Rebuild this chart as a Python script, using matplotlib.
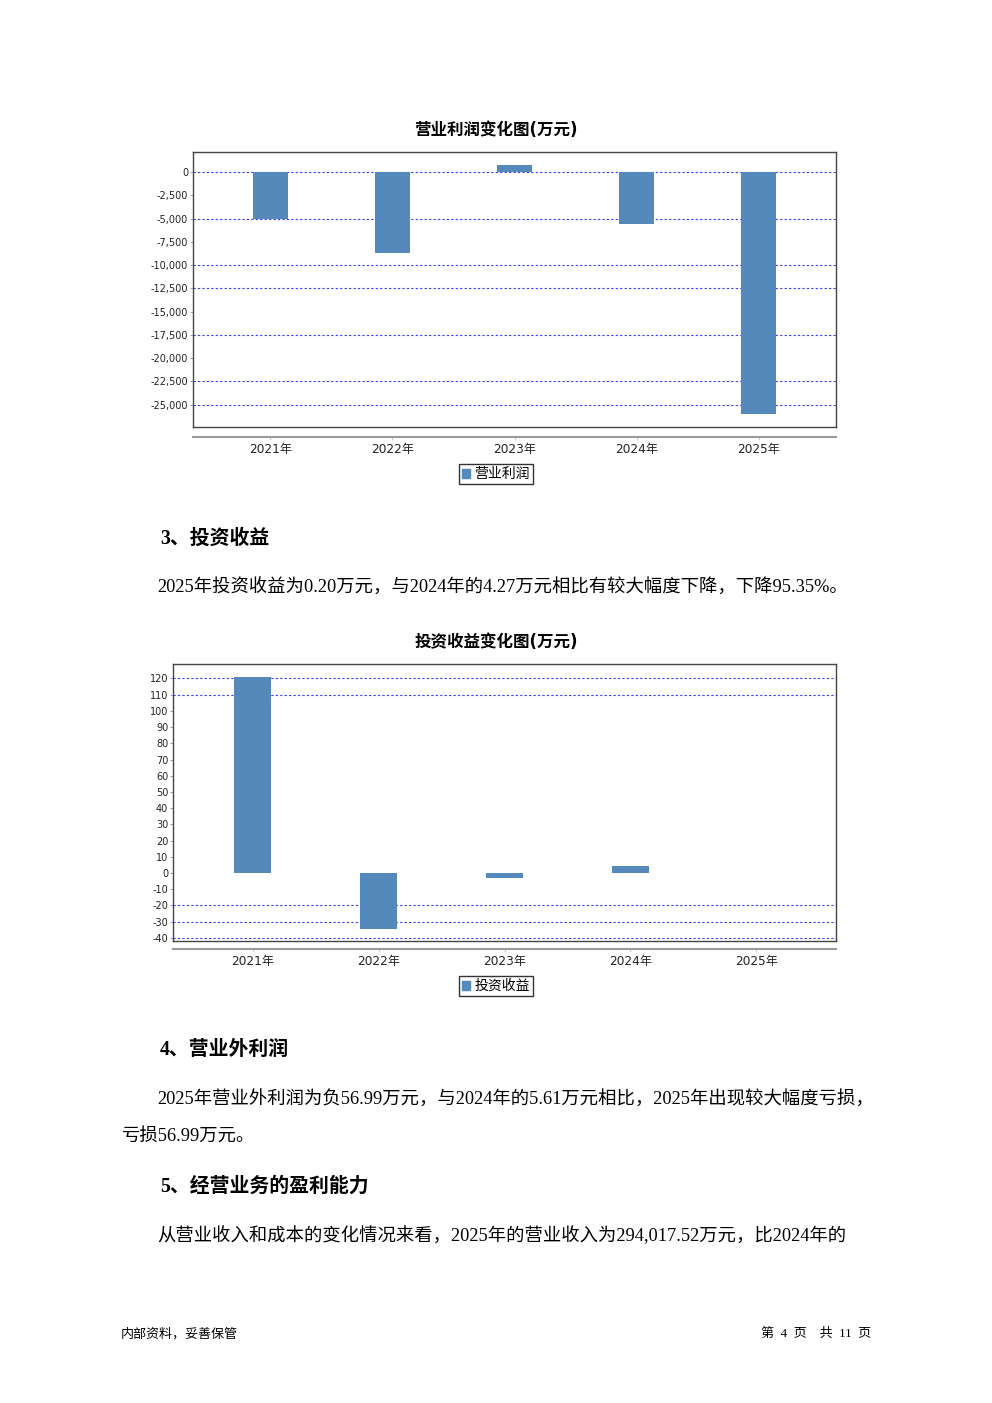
import numpy as np
import matplotlib
matplotlib.use("Agg")
import matplotlib.pyplot as plt
from matplotlib.patches import Patch

W, H = 992, 1403

# ---- data ----
years = ["2021年", "2022年", "2023年", "2024年", "2025年"]
op_profit = [-5100, -8660, 790, -5600, -26040]
inv_income = [120.8, -34.5, -3.2, 4.27, 0.20]

op_yticks = list(range(0, -25001, -2500))
op_grid = [0, -5000, -10000, -12500, -17500, -22500, -25000]
inv_yticks = list(range(-40, 121, 10))
inv_grid = [120, 110, -20, -30, -40]

BAR = "#5588bb"
GRID = "#3a3aff"
CJK = ["DejaVu Sans", "Noto Sans CJK SC"]
BODY = ["Liberation Serif", "Noto Sans CJK SC"]


def px_axes(fig, left, right, top, bottom):
    return fig.add_axes([left / W, 1 - bottom / H, (right - left) / W, (bottom - top) / H])


def ftext(fig, x, y, s, **kw):
    return fig.text(x / W, 1 - y / H, s, **kw)


def bar_chart(fig, box, axis_y, values, yticks, grid, ylim, title, title_y, label, legend_y):
    left, right, top, bottom = box
    ax = px_axes(fig, left, right, top, bottom)
    x = np.arange(len(years))
    ax.bar(x, values, width=0.29, color=BAR, zorder=3)
    for g in grid:
        ax.axhline(g, color=GRID, lw=0.8, ls=(0, (2, 2)), zorder=1)
    ax.set_xlim(-0.633, 4.633)
    ax.set_ylim(*ylim)
    ax.set_xticks([])
    ax.set_yticks(yticks)
    ax.set_yticklabels([f"{v:,}" for v in yticks], fontsize=7, color="#222222")
    ax.tick_params(axis="y", length=2, width=0.8, color="#aaaaaa", pad=1.5)
    for sp in ax.spines.values():
        sp.set_color("#444444")
        sp.set_linewidth(1.0)

    # separate category axis below the plot box
    cax = px_axes(fig, left, right, axis_y, axis_y + 0.5)
    cax.set_xlim(-0.633, 4.633)
    cax.set_yticks([])
    for s in ["top", "left", "right"]:
        cax.spines[s].set_visible(False)
    cax.spines["bottom"].set_color("#999999")
    cax.spines["bottom"].set_linewidth(1.5)
    cax.set_xticks(x)
    cax.set_xticklabels(years, fontsize=8.7, family=CJK, color="#222222")
    cax.tick_params(axis="x", length=2, color="#cccccc", pad=3)
    cax.patch.set_visible(False)

    ftext(fig, 496, title_y, title, ha="center", va="center", fontsize=11.9,
          fontweight="bold", family=CJK)

    handle = Patch(facecolor=BAR, edgecolor=BAR)
    leg = fig.legend([handle], [label], loc="center", bbox_to_anchor=(496 / W, 1 - legend_y / H),
                     prop={"family": CJK, "size": 10}, frameon=True, fancybox=False,
                     handlelength=0.6, handleheight=0.6, handletextpad=0.3,
                     borderpad=0.25, borderaxespad=0)
    leg.get_frame().set_edgecolor("black")
    leg.get_frame().set_linewidth(1.0)
    return ax


fig = plt.figure(figsize=(W / 100, H / 100), dpi=100)
fig.patch.set_facecolor("white")

bar_chart(fig, (193, 836, 152, 427), 436, op_profit, op_yticks, op_grid,
          (-27406, 2155), "营业利润变化图(万元)", 130, "营业利润", 474)

ftext(fig, 160, 539, "3、投资收益", fontsize=14.3, fontweight="bold", family=BODY, va="center")
ftext(fig, 157, 588, "2025年投资收益为0.20万元，与2024年的4.27万元相比有较大幅度下降，下降95.35%。",
      fontsize=13.2, family=BODY, va="center")

bar_chart(fig, (173, 836, 664, 941), 948, inv_income, inv_yticks, inv_grid,
          (-41.9, 128.9), "投资收益变化图(万元)", 642, "投资收益", 986)

ftext(fig, 160, 1050, "4、营业外利润", fontsize=14.3, fontweight="bold", family=BODY, va="center")
ftext(fig, 157, 1100, "2025年营业外利润为负56.99万元，与2024年的5.61万元相比，2025年出现较大幅度亏损，",
      fontsize=13.2, family=BODY, va="center")
ftext(fig, 121, 1136, "亏损56.99万元。", fontsize=13.2, family=BODY, va="center")

ftext(fig, 160, 1187, "5、经营业务的盈利能力", fontsize=14.3, fontweight="bold", family=BODY, va="center")
ftext(fig, 157, 1236, "从营业收入和成本的变化情况来看，2025年的营业收入为294,017.52万元，比2024年的",
      fontsize=13.2, family=BODY, va="center")

ftext(fig, 121, 1334, "内部资料，妥善保管", fontsize=9.4, family=BODY, va="center")
ftext(fig, 871, 1334, "第  4  页    共  11  页", fontsize=9.4, family=BODY, va="center", ha="right")

fig.savefig("out.png", dpi=100, facecolor="white")
